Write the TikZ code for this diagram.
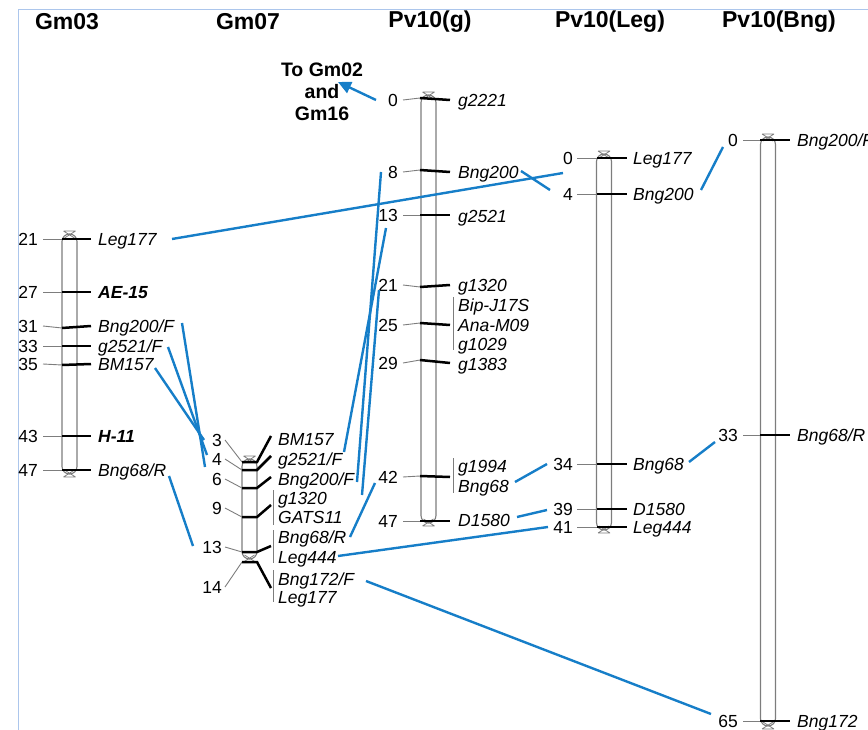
\documentclass[tikz,border=0pt]{standalone}
\usepackage{fontspec}
\setmainfont{Liberation Sans}
\usepackage{tikz}
\usetikzlibrary{calc,arrows.meta}
\definecolor{linkblue}{RGB}{22,126,200}
\definecolor{chrgray}{RGB}{125,125,125}
\definecolor{frameblue}{RGB}{172,198,236}

\tikzset{
    chrom/.style={draw=chrgray, line width=1.1pt, rounded corners=7.5pt},
    locus/.style={line width=2.5pt, black},
    leader/.style={line width=0.9pt, chrgray},
    cmpos/.style={anchor=east, inner sep=0pt, text height=13pt, text depth=0pt, font=\fontsize{17.5}{17.5}\selectfont},
    mk/.style={anchor=west, inner sep=0pt, text height=13pt, text depth=0pt, font=\fontsize{17.5}{17.5}\selectfont\itshape},
    title/.style={font=\fontsize{23}{23}\selectfont\bfseries},
    link/.style={linkblue, line width=2.4pt}
}

\begin{document}
\begin{tikzpicture}[x=1pt, y=-1pt]
                        \useasboundingbox (0,0) rectangle (868,730);
                        \draw[frameblue, line width=1pt] (18,730) -- (18,10) -- (868,10);

                        \node[title] (tGma) at (67,22) {Gm03};
                        \node[title] (tGmb) at (248,22) {Gm07};
                        \node[title] (tPva) at (430,22) {Pv10(g)};
                        \node[title] (tPvb) at (610,22) {Pv10(Leg)};
                        \node[title] (tPvc) at (779,22) {Pv10(Bng)};

                        % chromosome bars with end caps
                        \foreach \cx/\ya/\yb in {69.5/234/474, 249.5/459/559, 428.5/95/523, 604/154/530, 768/137/726} {
                            \draw[chrom] (\cx-7.5,\ya) rectangle (\cx+7.5,\yb);
                            \draw[chrgray, line width=0.8pt] (\cx-6,\ya-3) -- (\cx+6,\ya-3) (\cx-6,\ya-3) -- (\cx+5,\ya+4) (\cx+6,\ya-3) -- (\cx-5,\ya+4);
                            \draw[chrgray, line width=0.8pt] (\cx-6,\yb+3) -- (\cx+6,\yb+3) (\cx-6,\yb+3) -- (\cx+5,\yb-4) (\cx+6,\yb+3) -- (\cx-5,\yb-4);
                        }

                        % Gm03
                        \foreach \y/\n/\ly/\lab in {239/21/239/Leg177, 292/27/292/\textbf{AE-15}, 328/31/326/{Bng200/F}, 346/33/346/{g2521/F}, 365/35/364/BM157, 436/43/436/\textbf{H-11}, 470/47/470/{Bng68/R}} {
                            \node[cmpos] (gma-n\n) at (38,\ly) {\n};
                            \draw[leader] (43,\ly) -- (62,\y);
                            \draw[locus] (62,\y) -- (91,\ly);
                            \node[mk] (gma-\n) at (98,\ly) {\lab};
                        }

                        % Gm07
                        \foreach \y/\n/\ny/\ly in {462/3/440/436, 470/4/459/456, 488/6/479/477, 517/9/508/505, 552/13/547/546, 562/14/587/588} {
                            \node[cmpos] (gmb-n\n) at (222,\ny) {\n};
                            \draw[leader] (225,\ny) -- (242,\y);
                            \draw[locus] (242,\y) -- (257,\y) -- (271,\ly);
                        }
                        \foreach \ty/\lab [count=\i] in {439/BM157, 459/{g2521/F}, 479/{Bng200/F}, 498/g1320, 517/GATS11, 537/{Bng68/R}, 557/Leg444, 579/{Bng172/F}, 597/Leg177} {
                            \node[mk] (gmb-\i) at (278,\ty) {\lab};
                        }
                        \foreach \ya/\yb in {490/525, 530/563, 570/602} {
                            \draw[leader] (273,\ya) -- (273,\yb);
                        }

                        % Pv10(g)
                        \foreach \y/\n/\ny in {98/0/100, 170/8/172, 215/13/215, 287/21/285, 323/25/325, 360/29/363, 476/42/477, 521/47/521} {
                            \node[cmpos] (pva-n\n) at (398,\ny) {\n};
                            \draw[leader] (403,\ny) -- (420,\y);
                            \draw[locus] (420,\y) -- (450,\ny);
                        }
                        \foreach \ty/\lab [count=\i] in {100/g2221, 172/Bng200, 216/g2521, 285/g1320, 305/Bip-J17S, 325/Ana-M09, 344/g1029, 364/g1383, 466/g1994, 486/Bng68, 520/D1580} {
                            \node[mk] (pva-\i) at (458,\ty) {\lab};
                        }
                        \draw[leader] (453,297) -- (453,350);
                        \draw[leader] (453,458) -- (453,493);

                        % Pv10(Leg)
                        \foreach \y/\n/\lab in {158/0/Leg177, 194/4/Bng200, 464/34/Bng68, 509/39/D1580, 527/41/Leg444} {
                            \node[cmpos] (pvb-n\n) at (573,\y) {\n};
                            \draw[leader] (577,\y) -- (597,\y);
                            \draw[locus] (597,\y) -- (627,\y);
                            \node[mk] (pvb-\n) at (633,\y) {\lab};
                        }

                        % Pv10(Bng)
                        \foreach \y/\n/\lab in {140/0/{Bng200/F}, 435/33/{Bng68/R}, 721/65/Bng172} {
                            \node[cmpos] (pvc-n\n) at (738,\y) {\n};
                            \draw[leader] (743,\y) -- (760,\y);
                            \draw[locus] (760,\y) -- (790,\y);
                            \node[mk] (pvc-\n) at (797,\y) {\lab};
                        }

                        \node[title, font=\fontsize{19.5}{22}\selectfont\bfseries, align=center] (togm) at (322,92) {To Gm02\\and\\Gm16};

                        % link ends
                        \foreach \nm/\xx/\yy in {arrA/376/100, arrB/338/82,
                            aLeg/172/239, bLeg/563/173, aB200/521/171, bB200/550/190, cB200/701/190, dB200/723/147,
                            aF200/182/323, bF200/205/467, aF2521/168/347, bF2521/207/455, aBM/155/368, bBM/204/440,
                            aR68/169/476, bR68/193/546, g8/381/172, m200/357/482, g13/386/228, m2521/344/452,
                            g21/379/290, m1320/362/495, g42/375/483, m68/350/537, m444/338/556, l41/548/527,
                            gB68/515/482, l34/547/464, gD15/517/517, l39/547/510, lB68/689/462, c33/715/442,
                            m172/366/581, c65/711/714} {
                            \coordinate (\nm) at (\xx,\yy);
                        }

                        \draw[link, arrows={-Triangle[length=13pt, width=12pt]}] (arrA) -- (arrB);
                        \foreach \a/\b in {aLeg/bLeg, aB200/bB200, cB200/dB200, aF200/bF200, aF2521/bF2521, aBM/bBM, aR68/bR68,
                            g8/m200, g13/m2521, g21/m1320, g42/m68, m444/l41, gB68/l34, gD15/l39, lB68/c33, m172/c65} {
                            \draw[link] (\a) -- (\b);
                        }
                    \end{tikzpicture}
\end{document}
